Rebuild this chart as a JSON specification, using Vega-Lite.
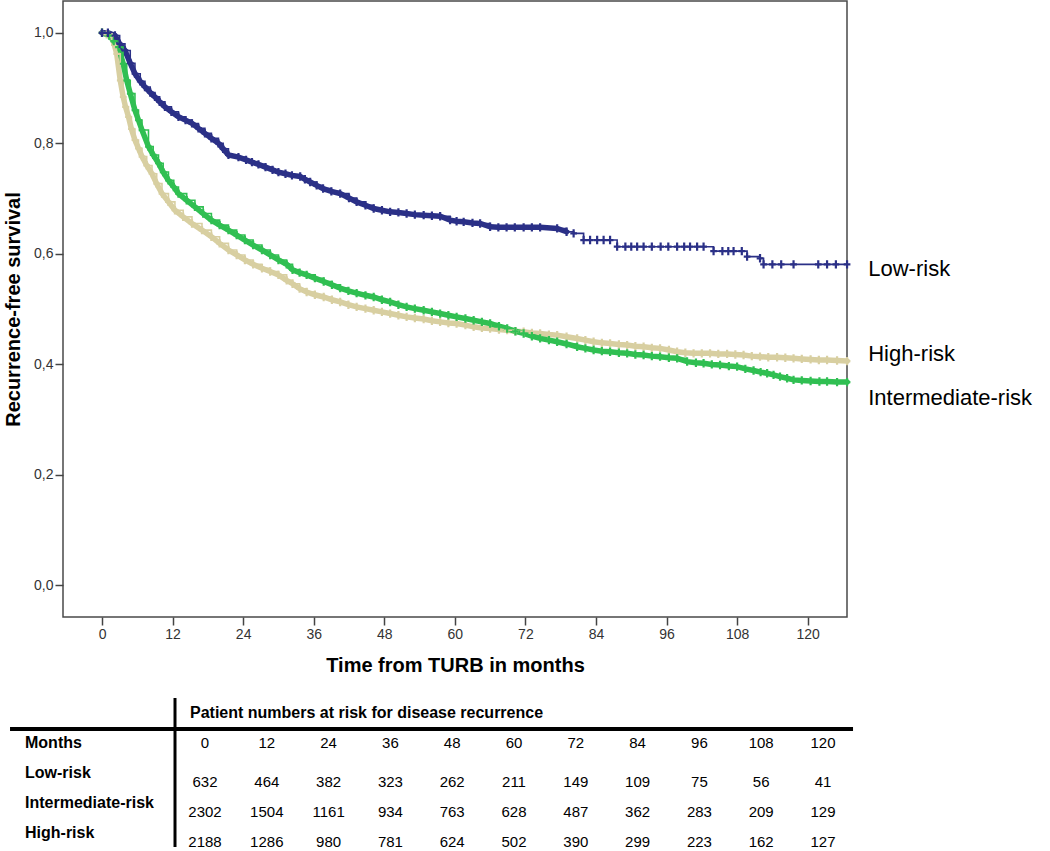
{
  "$schema": "https://vega.github.io/schema/vega-lite/v6.json",
  "width": 784,
  "height": 616,
  "autosize": {"type": "none"},
  "padding": {"left": 63, "top": 1, "right": 203, "bottom": 234},
  "background": "white",
  "config": {
    "font": "Liberation Sans",
    "view": {"stroke": "#4a4a4a", "strokeWidth": 1.5},
    "axis": {
      "grid": false,
      "domain": false,
      "tickColor": "#444444",
      "tickWidth": 1.5,
      "tickSize": 8,
      "labelPadding": 2,
      "labelFontSize": 14,
      "labelColor": "#333333",
      "labelFont": "Liberation Sans",
      "titleFont": "Liberation Sans",
      "titleFontSize": 20,
      "titleFontWeight": "bold",
      "titleColor": "#000000",
      "titlePadding": 14
    },
    "axisY": {"titlePadding": 10}
  },
  "datasets": {
    "curves": [
      {"g":"High-risk","t":0,"s":1},{"g":"High-risk","t":0.8,"s":0.997},{"g":"High-risk","t":1.65,"s":0.992},{"g":"High-risk","t":2.1,"s":0.978},{"g":"High-risk","t":2.5,"s":0.962},{"g":"High-risk","t":3.1,"s":0.914},{"g":"High-risk","t":3.6,"s":0.884},{"g":"High-risk","t":4.0,"s":0.866},{"g":"High-risk","t":4.5,"s":0.848},{"g":"High-risk","t":5.0,"s":0.826},{"g":"High-risk","t":5.6,"s":0.806},{"g":"High-risk","t":6.2,"s":0.791},{"g":"High-risk","t":6.8,"s":0.776},{"g":"High-risk","t":7.6,"s":0.76},{"g":"High-risk","t":8.5,"s":0.745},{"g":"High-risk","t":9.3,"s":0.727},{"g":"High-risk","t":10.2,"s":0.709},{"g":"High-risk","t":11.3,"s":0.694},{"g":"High-risk","t":12.4,"s":0.679},{"g":"High-risk","t":13.8,"s":0.667},{"g":"High-risk","t":15.3,"s":0.655},{"g":"High-risk","t":17,"s":0.643},{"g":"High-risk","t":18.6,"s":0.631},{"g":"High-risk","t":20,"s":0.619},{"g":"High-risk","t":21.5,"s":0.607},{"g":"High-risk","t":22.9,"s":0.598},{"g":"High-risk","t":24.3,"s":0.589},{"g":"High-risk","t":25.7,"s":0.581},{"g":"High-risk","t":27.2,"s":0.574},{"g":"High-risk","t":28.6,"s":0.568},{"g":"High-risk","t":30,"s":0.562},{"g":"High-risk","t":31.4,"s":0.552},{"g":"High-risk","t":32.4,"s":0.546},{"g":"High-risk","t":33.6,"s":0.537},{"g":"High-risk","t":34.8,"s":0.531},{"g":"High-risk","t":36.2,"s":0.526},{"g":"High-risk","t":37.7,"s":0.522},{"g":"High-risk","t":39.1,"s":0.517},{"g":"High-risk","t":40.5,"s":0.513},{"g":"High-risk","t":41.9,"s":0.508},{"g":"High-risk","t":43.3,"s":0.504},{"g":"High-risk","t":44.8,"s":0.501},{"g":"High-risk","t":46.2,"s":0.498},{"g":"High-risk","t":47.6,"s":0.495},{"g":"High-risk","t":49,"s":0.492},{"g":"High-risk","t":50.4,"s":0.489},{"g":"High-risk","t":51.8,"s":0.486},{"g":"High-risk","t":53.2,"s":0.484},{"g":"High-risk","t":54.7,"s":0.482},{"g":"High-risk","t":56.1,"s":0.479},{"g":"High-risk","t":57.5,"s":0.477},{"g":"High-risk","t":58.9,"s":0.475},{"g":"High-risk","t":60.3,"s":0.474},{"g":"High-risk","t":61.8,"s":0.471},{"g":"High-risk","t":63.2,"s":0.468},{"g":"High-risk","t":64.6,"s":0.466},{"g":"High-risk","t":66,"s":0.465},{"g":"High-risk","t":67.5,"s":0.463},{"g":"High-risk","t":68.9,"s":0.462},{"g":"High-risk","t":70.3,"s":0.46},{"g":"High-risk","t":71.7,"s":0.459},{"g":"High-risk","t":73.1,"s":0.457},{"g":"High-risk","t":74.5,"s":0.456},{"g":"High-risk","t":76,"s":0.454},{"g":"High-risk","t":77.4,"s":0.453},{"g":"High-risk","t":79,"s":0.45},{"g":"High-risk","t":80.8,"s":0.447},{"g":"High-risk","t":82.2,"s":0.444},{"g":"High-risk","t":83.6,"s":0.441},{"g":"High-risk","t":85,"s":0.439},{"g":"High-risk","t":86.4,"s":0.438},{"g":"High-risk","t":87.9,"s":0.436},{"g":"High-risk","t":89.3,"s":0.435},{"g":"High-risk","t":90.7,"s":0.433},{"g":"High-risk","t":92.1,"s":0.432},{"g":"High-risk","t":93.5,"s":0.43},{"g":"High-risk","t":94.9,"s":0.429},{"g":"High-risk","t":96.4,"s":0.426},{"g":"High-risk","t":97.8,"s":0.423},{"g":"High-risk","t":99.2,"s":0.421},{"g":"High-risk","t":100.6,"s":0.42},{"g":"High-risk","t":102,"s":0.42},{"g":"High-risk","t":103.4,"s":0.42},{"g":"High-risk","t":104.8,"s":0.419},{"g":"High-risk","t":106.3,"s":0.419},{"g":"High-risk","t":107.7,"s":0.418},{"g":"High-risk","t":109.1,"s":0.417},{"g":"High-risk","t":110.5,"s":0.415},{"g":"High-risk","t":111.9,"s":0.414},{"g":"High-risk","t":113.3,"s":0.413},{"g":"High-risk","t":114.8,"s":0.413},{"g":"High-risk","t":116.2,"s":0.412},{"g":"High-risk","t":117.6,"s":0.411},{"g":"High-risk","t":119,"s":0.41},{"g":"High-risk","t":120.5,"s":0.409},{"g":"High-risk","t":121.9,"s":0.408},{"g":"High-risk","t":123.3,"s":0.408},{"g":"High-risk","t":125,"s":0.407},{"g":"High-risk","t":126.7,"s":0.406},
      {"g":"Intermediate-risk","t":0,"s":1},{"g":"Intermediate-risk","t":1.2,"s":0.995},{"g":"Intermediate-risk","t":2,"s":0.985},{"g":"Intermediate-risk","t":2.8,"s":0.974},{"g":"Intermediate-risk","t":3.6,"s":0.944},{"g":"Intermediate-risk","t":4.2,"s":0.914},{"g":"Intermediate-risk","t":4.8,"s":0.89},{"g":"Intermediate-risk","t":5.6,"s":0.86},{"g":"Intermediate-risk","t":6.2,"s":0.842},{"g":"Intermediate-risk","t":6.8,"s":0.824},{"g":"Intermediate-risk","t":7.9,"s":0.794},{"g":"Intermediate-risk","t":8.7,"s":0.779},{"g":"Intermediate-risk","t":9.6,"s":0.764},{"g":"Intermediate-risk","t":10.4,"s":0.748},{"g":"Intermediate-risk","t":11.3,"s":0.733},{"g":"Intermediate-risk","t":12.2,"s":0.721},{"g":"Intermediate-risk","t":13,"s":0.709},{"g":"Intermediate-risk","t":14.4,"s":0.697},{"g":"Intermediate-risk","t":15.8,"s":0.685},{"g":"Intermediate-risk","t":17.2,"s":0.673},{"g":"Intermediate-risk","t":18.6,"s":0.661},{"g":"Intermediate-risk","t":20,"s":0.652},{"g":"Intermediate-risk","t":21.5,"s":0.643},{"g":"Intermediate-risk","t":22.9,"s":0.634},{"g":"Intermediate-risk","t":24.3,"s":0.625},{"g":"Intermediate-risk","t":25.7,"s":0.616},{"g":"Intermediate-risk","t":27.2,"s":0.607},{"g":"Intermediate-risk","t":28.6,"s":0.598},{"g":"Intermediate-risk","t":30,"s":0.589},{"g":"Intermediate-risk","t":31.4,"s":0.581},{"g":"Intermediate-risk","t":32.4,"s":0.571},{"g":"Intermediate-risk","t":33.6,"s":0.566},{"g":"Intermediate-risk","t":34.8,"s":0.562},{"g":"Intermediate-risk","t":36.2,"s":0.556},{"g":"Intermediate-risk","t":37.7,"s":0.55},{"g":"Intermediate-risk","t":39.1,"s":0.544},{"g":"Intermediate-risk","t":40.5,"s":0.538},{"g":"Intermediate-risk","t":41.9,"s":0.533},{"g":"Intermediate-risk","t":43.3,"s":0.529},{"g":"Intermediate-risk","t":44.8,"s":0.525},{"g":"Intermediate-risk","t":46.2,"s":0.522},{"g":"Intermediate-risk","t":47.6,"s":0.517},{"g":"Intermediate-risk","t":49,"s":0.513},{"g":"Intermediate-risk","t":50.4,"s":0.508},{"g":"Intermediate-risk","t":51.8,"s":0.504},{"g":"Intermediate-risk","t":53.2,"s":0.501},{"g":"Intermediate-risk","t":54.7,"s":0.498},{"g":"Intermediate-risk","t":56.1,"s":0.495},{"g":"Intermediate-risk","t":57.5,"s":0.492},{"g":"Intermediate-risk","t":58.9,"s":0.489},{"g":"Intermediate-risk","t":60.3,"s":0.486},{"g":"Intermediate-risk","t":61.8,"s":0.483},{"g":"Intermediate-risk","t":63.2,"s":0.48},{"g":"Intermediate-risk","t":64.6,"s":0.477},{"g":"Intermediate-risk","t":66,"s":0.474},{"g":"Intermediate-risk","t":67.5,"s":0.469},{"g":"Intermediate-risk","t":68.9,"s":0.465},{"g":"Intermediate-risk","t":70.3,"s":0.46},{"g":"Intermediate-risk","t":71.7,"s":0.456},{"g":"Intermediate-risk","t":73.1,"s":0.451},{"g":"Intermediate-risk","t":74.5,"s":0.447},{"g":"Intermediate-risk","t":76,"s":0.444},{"g":"Intermediate-risk","t":77.4,"s":0.441},{"g":"Intermediate-risk","t":79,"s":0.437},{"g":"Intermediate-risk","t":80.8,"s":0.432},{"g":"Intermediate-risk","t":82.2,"s":0.429},{"g":"Intermediate-risk","t":83.6,"s":0.426},{"g":"Intermediate-risk","t":85,"s":0.424},{"g":"Intermediate-risk","t":86.4,"s":0.423},{"g":"Intermediate-risk","t":87.9,"s":0.421},{"g":"Intermediate-risk","t":89.3,"s":0.42},{"g":"Intermediate-risk","t":90.7,"s":0.418},{"g":"Intermediate-risk","t":92.1,"s":0.417},{"g":"Intermediate-risk","t":93.5,"s":0.415},{"g":"Intermediate-risk","t":94.9,"s":0.414},{"g":"Intermediate-risk","t":96.4,"s":0.412},{"g":"Intermediate-risk","t":97.8,"s":0.411},{"g":"Intermediate-risk","t":99.5,"s":0.405},{"g":"Intermediate-risk","t":101,"s":0.403},{"g":"Intermediate-risk","t":102.3,"s":0.402},{"g":"Intermediate-risk","t":103.7,"s":0.4},{"g":"Intermediate-risk","t":105.1,"s":0.399},{"g":"Intermediate-risk","t":106.6,"s":0.397},{"g":"Intermediate-risk","t":108,"s":0.396},{"g":"Intermediate-risk","t":109.4,"s":0.392},{"g":"Intermediate-risk","t":110.8,"s":0.389},{"g":"Intermediate-risk","t":112,"s":0.386},{"g":"Intermediate-risk","t":113.1,"s":0.384},{"g":"Intermediate-risk","t":114.2,"s":0.381},{"g":"Intermediate-risk","t":115.3,"s":0.378},{"g":"Intermediate-risk","t":116.5,"s":0.375},{"g":"Intermediate-risk","t":117.6,"s":0.372},{"g":"Intermediate-risk","t":119,"s":0.371},{"g":"Intermediate-risk","t":120.5,"s":0.37},{"g":"Intermediate-risk","t":122,"s":0.369},{"g":"Intermediate-risk","t":123.3,"s":0.369},{"g":"Intermediate-risk","t":125,"s":0.368},{"g":"Intermediate-risk","t":126.7,"s":0.368},
      {"g":"Low-risk","t":0,"s":1},{"g":"Low-risk","t":1,"s":1},{"g":"Low-risk","t":2.2,"s":0.995},{"g":"Low-risk","t":3,"s":0.98},{"g":"Low-risk","t":3.9,"s":0.968},{"g":"Low-risk","t":4.8,"s":0.945},{"g":"Low-risk","t":5.6,"s":0.926},{"g":"Low-risk","t":6.5,"s":0.912},{"g":"Low-risk","t":7.3,"s":0.902},{"g":"Low-risk","t":8.2,"s":0.892},{"g":"Low-risk","t":9,"s":0.884},{"g":"Low-risk","t":9.8,"s":0.875},{"g":"Low-risk","t":10.7,"s":0.866},{"g":"Low-risk","t":11.8,"s":0.857},{"g":"Low-risk","t":13,"s":0.848},{"g":"Low-risk","t":14.2,"s":0.842},{"g":"Low-risk","t":15.3,"s":0.836},{"g":"Low-risk","t":16.4,"s":0.827},{"g":"Low-risk","t":17.5,"s":0.818},{"g":"Low-risk","t":18.6,"s":0.809},{"g":"Low-risk","t":19.8,"s":0.8},{"g":"Low-risk","t":20.6,"s":0.79},{"g":"Low-risk","t":21.5,"s":0.779},{"g":"Low-risk","t":23.2,"s":0.775},{"g":"Low-risk","t":24.5,"s":0.77},{"g":"Low-risk","t":25.5,"s":0.766},{"g":"Low-risk","t":26.6,"s":0.762},{"g":"Low-risk","t":27.8,"s":0.757},{"g":"Low-risk","t":29,"s":0.752},{"g":"Low-risk","t":30,"s":0.748},{"g":"Low-risk","t":31.2,"s":0.745},{"g":"Low-risk","t":32.3,"s":0.742},{"g":"Low-risk","t":33.7,"s":0.74},{"g":"Low-risk","t":34.5,"s":0.735},{"g":"Low-risk","t":35.4,"s":0.73},{"g":"Low-risk","t":36.5,"s":0.724},{"g":"Low-risk","t":37.6,"s":0.718},{"g":"Low-risk","t":39,"s":0.713},{"g":"Low-risk","t":40.5,"s":0.709},{"g":"Low-risk","t":42,"s":0.701},{"g":"Low-risk","t":43.3,"s":0.694},{"g":"Low-risk","t":44.8,"s":0.688},{"g":"Low-risk","t":46.2,"s":0.682},{"g":"Low-risk","t":47.6,"s":0.679},{"g":"Low-risk","t":49,"s":0.676},{"g":"Low-risk","t":50.4,"s":0.675},{"g":"Low-risk","t":51.8,"s":0.673},{"g":"Low-risk","t":53.2,"s":0.671},{"g":"Low-risk","t":54.7,"s":0.67},{"g":"Low-risk","t":56.1,"s":0.669},{"g":"Low-risk","t":57.5,"s":0.668},{"g":"Low-risk","t":59.2,"s":0.661},{"g":"Low-risk","t":60.3,"s":0.659},{"g":"Low-risk","t":61.5,"s":0.658},{"g":"Low-risk","t":63,"s":0.656},{"g":"Low-risk","t":64.3,"s":0.655},{"g":"Low-risk","t":66,"s":0.649},{"g":"Low-risk","t":67.4,"s":0.648},{"g":"Low-risk","t":68.8,"s":0.648},{"g":"Low-risk","t":70.2,"s":0.648},{"g":"Low-risk","t":71.7,"s":0.648},{"g":"Low-risk","t":73.1,"s":0.648},{"g":"Low-risk","t":74.5,"s":0.648},{"g":"Low-risk","t":77.4,"s":0.646},{"g":"Low-risk","t":79,"s":0.64},{"g":"Low-risk","t":80.2,"s":0.637},{"g":"Low-risk","t":81.9,"s":0.625},{"g":"Low-risk","t":83,"s":0.625},{"g":"Low-risk","t":84.2,"s":0.625},{"g":"Low-risk","t":85.3,"s":0.625},{"g":"Low-risk","t":86.4,"s":0.625},{"g":"Low-risk","t":87.6,"s":0.613},{"g":"Low-risk","t":89,"s":0.613},{"g":"Low-risk","t":90,"s":0.613},{"g":"Low-risk","t":91,"s":0.613},{"g":"Low-risk","t":92.1,"s":0.613},{"g":"Low-risk","t":93.5,"s":0.613},{"g":"Low-risk","t":95,"s":0.613},{"g":"Low-risk","t":96.3,"s":0.613},{"g":"Low-risk","t":97.8,"s":0.613},{"g":"Low-risk","t":99,"s":0.613},{"g":"Low-risk","t":100,"s":0.613},{"g":"Low-risk","t":101.2,"s":0.613},{"g":"Low-risk","t":102.3,"s":0.613},{"g":"Low-risk","t":104,"s":0.605},{"g":"Low-risk","t":105.5,"s":0.605},{"g":"Low-risk","t":106.5,"s":0.605},{"g":"Low-risk","t":107.4,"s":0.605},{"g":"Low-risk","t":108.8,"s":0.605},{"g":"Low-risk","t":109.7,"s":0.595},{"g":"Low-risk","t":111.9,"s":0.592},{"g":"Low-risk","t":112.5,"s":0.581},{"g":"Low-risk","t":114,"s":0.581},{"g":"Low-risk","t":115.5,"s":0.581},{"g":"Low-risk","t":117.6,"s":0.581},{"g":"Low-risk","t":121.8,"s":0.581},{"g":"Low-risk","t":123.3,"s":0.581},{"g":"Low-risk","t":124.8,"s":0.581},{"g":"Low-risk","t":126.7,"s":0.581}
    ],
    "labels": [
      {"g":"Low-risk","t":130.3,"s":0.5725},
      {"g":"High-risk","t":130.3,"s":0.419},
      {"g":"Intermediate-risk","t":130.3,"s":0.339}
    ],
    "header": [
      {"text":"Patient numbers at risk for disease recurrence","c":-2.91,"r":0}
    ],
    "rowlabels": [
      {"text":"Months","r":1},
      {"text":"Low-risk","r":2},
      {"text":"Intermediate-risk","r":3},
      {"text":"High-risk","r":4}
    ],
    "months": [
      {"m":0,"r":1},{"m":12,"r":1},{"m":24,"r":1},{"m":36,"r":1},{"m":48,"r":1},{"m":60,"r":1},{"m":72,"r":1},{"m":84,"r":1},{"m":96,"r":1},{"m":108,"r":1},{"m":120,"r":1}
    ],
    "atrisk": [
      {"m":0,"r":2,"n":632},{"m":12,"r":2,"n":464},{"m":24,"r":2,"n":382},{"m":36,"r":2,"n":323},{"m":48,"r":2,"n":262},{"m":60,"r":2,"n":211},{"m":72,"r":2,"n":149},{"m":84,"r":2,"n":109},{"m":96,"r":2,"n":75},{"m":108,"r":2,"n":56},{"m":120,"r":2,"n":41},
      {"m":0,"r":3,"n":2302},{"m":12,"r":3,"n":1504},{"m":24,"r":3,"n":1161},{"m":36,"r":3,"n":934},{"m":48,"r":3,"n":763},{"m":60,"r":3,"n":628},{"m":72,"r":3,"n":487},{"m":84,"r":3,"n":362},{"m":96,"r":3,"n":283},{"m":108,"r":3,"n":209},{"m":120,"r":3,"n":129},
      {"m":0,"r":4,"n":2188},{"m":12,"r":4,"n":1286},{"m":24,"r":4,"n":980},{"m":36,"r":4,"n":781},{"m":48,"r":4,"n":624},{"m":60,"r":4,"n":502},{"m":72,"r":4,"n":390},{"m":84,"r":4,"n":299},{"m":96,"r":4,"n":223},{"m":108,"r":4,"n":162},{"m":120,"r":4,"n":127}
    ],
    "hline": [{"x":-37.86,"x2":125.83,"y":0.367}],
    "vline": [{"x":-5.825,"y":-0.667,"y2":4.3}]
  },
  "layer": [
    {
      "layer": [
        {
          "data": {"name": "curves"},
          "transform": [{"filter": "datum.g != 'Low-risk' || datum.t < 80"}],
          "mark": {"type": "line", "interpolate": "linear", "strokeWidth": 5.5, "strokeCap": "round"},
          "encoding": {
            "x": {"field": "t", "type": "quantitative", "title": "Time from TURB in months",
                  "scale": {"domain": [-6.635, 126.69], "nice": false, "zero": false},
                  "axis": {"values": [0,12,24,36,48,60,72,84,96,108,120]}},
            "y": {"field": "s", "type": "quantitative", "title": "Recurrence-free survival",
                  "scale": {"domain": [-0.057, 1.0575], "nice": false, "zero": false},
                  "axis": {"values": [0,0.2,0.4,0.6,0.8,1], "labelExpr": "replace(format(datum.value, '.1f'), '.', ',')"}},
            "color": {"field": "g", "type": "nominal", "legend": null,
                      "scale": {"domain": ["Low-risk","Intermediate-risk","High-risk"], "range": ["#2b3087","#30bf52","#d8cfa1"]}},
            "detail": {"field": "g"}
          }
        },
        {
          "data": {"name": "curves"},
          "mark": {"type": "line", "interpolate": "step-after", "strokeWidth": 1.6},
          "encoding": {
            "x": {"field": "t", "type": "quantitative", "title": "Time from TURB in months"},
            "y": {"field": "s", "type": "quantitative", "title": "Recurrence-free survival"},
            "color": {"field": "g", "type": "nominal", "legend": null},
            "detail": {"field": "g"}
          }
        },
        {
          "data": {"name": "curves"},
          "mark": {"type": "point", "shape": "M-0.8,0H0.8M0,-1V1", "filled": false, "size": 70, "strokeWidth": 2.2, "opacity": 1},
          "encoding": {
            "x": {"field": "t", "type": "quantitative", "title": "Time from TURB in months"},
            "y": {"field": "s", "type": "quantitative", "title": "Recurrence-free survival"},
            "color": {"field": "g", "type": "nominal", "legend": null}
          }
        },
        {
          "data": {"name": "labels"},
          "mark": {"type": "text", "align": "left", "baseline": "middle", "fontSize": 22, "font": "Liberation Sans", "color": "#000000"},
          "encoding": {
            "x": {"field": "t", "type": "quantitative", "title": "Time from TURB in months"},
            "y": {"field": "s", "type": "quantitative", "title": "Recurrence-free survival"},
            "text": {"field": "g"}
          }
        }
      ]
    },
    {
      "layer": [
        {
          "data": {"name": "header"},
          "mark": {"type": "text", "align": "left", "baseline": "alphabetic", "fontSize": 16, "fontWeight": "bold", "font": "Liberation Sans", "color": "#000000"},
          "encoding": {
            "x": {"field": "c", "type": "quantitative", "axis": null, "scale": {"domain": [-27.573, 124.66], "nice": false, "zero": false}},
            "y": {"field": "r", "type": "quantitative", "axis": null, "scale": {"domain": [-23.9, -3.367], "nice": false, "zero": false, "reverse": true}},
            "text": {"field": "text"}
          }
        },
        {
          "data": {"name": "rowlabels"},
          "mark": {"type": "text", "align": "left", "baseline": "alphabetic", "fontSize": 16, "fontWeight": "bold", "font": "Liberation Sans", "color": "#000000"},
          "encoding": {
            "x": {"datum": -34.95, "type": "quantitative", "axis": null, "scale": {"domain": [-27.573, 124.66], "nice": false, "zero": false}},
            "y": {"field": "r", "type": "quantitative", "axis": null, "scale": {"domain": [-23.9, -3.367], "nice": false, "zero": false, "reverse": true}},
            "text": {"field": "text"}
          }
        },
        {
          "data": {"name": "months"},
          "mark": {"type": "text", "align": "center", "baseline": "alphabetic", "fontSize": 15, "font": "Liberation Sans", "color": "#000000"},
          "encoding": {
            "x": {"field": "m", "type": "quantitative", "axis": null, "scale": {"domain": [-27.573, 124.66], "nice": false, "zero": false}},
            "y": {"field": "r", "type": "quantitative", "axis": null, "scale": {"domain": [-23.9, -3.367], "nice": false, "zero": false, "reverse": true}},
            "text": {"field": "m", "type": "quantitative"}
          }
        },
        {
          "data": {"name": "atrisk"},
          "mark": {"type": "text", "align": "center", "baseline": "alphabetic", "fontSize": 15, "dy": 9, "font": "Liberation Sans", "color": "#000000"},
          "encoding": {
            "x": {"field": "m", "type": "quantitative", "axis": null, "scale": {"domain": [-27.573, 124.66], "nice": false, "zero": false}},
            "y": {"field": "r", "type": "quantitative", "axis": null, "scale": {"domain": [-23.9, -3.367], "nice": false, "zero": false, "reverse": true}},
            "text": {"field": "n", "type": "quantitative"}
          }
        },
        {
          "data": {"name": "hline"},
          "mark": {"type": "rule", "strokeWidth": 4, "color": "#000000"},
          "encoding": {
            "x": {"field": "x", "type": "quantitative", "axis": null, "scale": {"domain": [-27.573, 124.66], "nice": false, "zero": false}},
            "x2": {"field": "x2"},
            "y": {"field": "y", "type": "quantitative", "axis": null, "scale": {"domain": [-23.9, -3.367], "nice": false, "zero": false, "reverse": true}}
          }
        },
        {
          "data": {"name": "vline"},
          "mark": {"type": "rule", "strokeWidth": 3, "color": "#000000"},
          "encoding": {
            "x": {"field": "x", "type": "quantitative", "axis": null, "scale": {"domain": [-27.573, 124.66], "nice": false, "zero": false}},
            "y": {"field": "y", "type": "quantitative", "axis": null, "scale": {"domain": [-23.9, -3.367], "nice": false, "zero": false, "reverse": true}},
            "y2": {"field": "y2"}
          }
        }
      ]
    }
  ],
  "resolve": {"scale": {"x": "independent", "y": "independent"}, "axis": {"x": "independent", "y": "independent"}}
}
